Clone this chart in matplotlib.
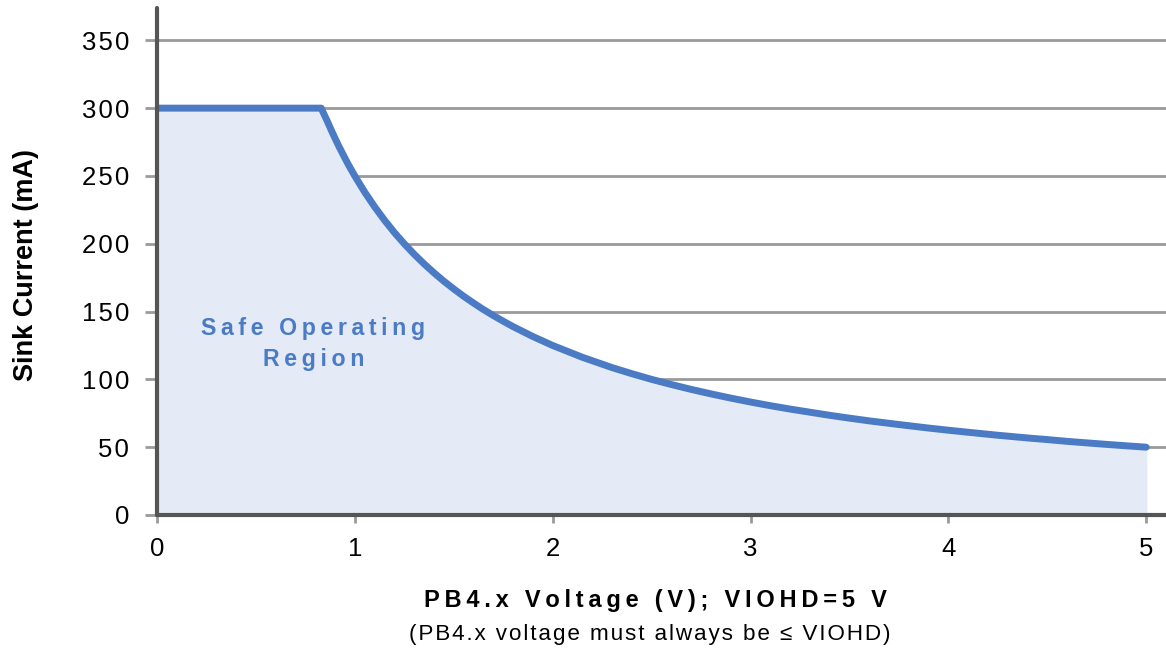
import matplotlib.pyplot as plt
import numpy as np

plt.rcParams['font.family'] = ['Liberation Sans', 'DejaVu Sans']

# curve
voltage = [0, 0.83, 0.86, 0.88, 0.9, 0.92, 0.95, 0.97, 1.0, 1.05, 1.1, 1.15,
           1.2, 1.25, 1.3, 1.35, 1.4, 1.45, 1.5, 1.55, 1.6, 1.65, 1.7, 1.75,
           1.8, 1.9, 2.0, 2.15, 2.3, 2.4, 2.5, 2.6, 2.7, 2.8, 2.9, 3.0, 3.1,
           3.2, 3.3, 3.4, 3.5, 3.6, 3.75, 3.9, 4.0, 4.1, 4.25, 4.4, 4.5, 4.6,
           4.75, 4.9, 5.0]
current = [300, 300, 290.7, 284.1, 277.8, 271.7, 263.2, 257.7, 250, 238.1, 227.3, 217.4,
           208.3, 200, 192.3, 185.2, 178.6, 172.4, 166.7, 161.3, 156.3, 151.5, 147.1, 142.9,
           138.9, 131.6, 125, 116.3, 108.7, 104.2, 100, 96.2, 92.6, 89.3, 86.2, 83.3, 80.6,
           78.1, 75.8, 73.5, 71.4, 69.4, 66.7, 64.1, 62.5, 61, 58.8, 56.8, 55.6, 54.3,
           52.6, 51, 50]
xticks = [0, 1, 2, 3, 4, 5]
yticks = [0, 50, 100, 150, 200, 250, 300, 350]


def spaced(s, sp='\u200a'):
    return sp.join(s)


blue = '#4A7BC4'
fig = plt.figure(figsize=(11.66, 6.49), dpi=100)
ax = fig.add_axes([0.1346, 0.2065, 0.8654, 0.7815])

ax.fill_between(voltage, current, 0, color='#E4EAF6', zorder=1)
ax.plot(voltage, current, color=blue, lw=5, solid_capstyle='round',
        solid_joinstyle='round', zorder=3)

ax.set_xlim(0, 5.1)
ax.set_ylim(0, 374)
ax.set_xticks(xticks)
ax.set_xticklabels([spaced(str(t)) for t in xticks])
ax.set_yticks(yticks)
ax.set_yticklabels([spaced(str(t)) for t in yticks])
ax.yaxis.grid(True, color='#9a9a9a', lw=2)
ax.set_axisbelow(True)

for s in ['top', 'right']:
    ax.spines[s].set_visible(False)
for s in ['left', 'bottom']:
    ax.spines[s].set_color('#555555')
    ax.spines[s].set_linewidth(3)
    ax.spines[s].set_capstyle('round')
    ax.spines[s].set_zorder(4)

ax.tick_params(axis='y', length=9, width=2, color='#9a9a9a', labelsize=18.5, pad=11)
ax.tick_params(axis='x', length=6, width=2, color='#9a9a9a', labelsize=18.5, pad=10)

ax.text(0.79, 126, spaced('Safe Operating', '\u2009') + '\n' + spaced('Region', '\u2009'),
        color=blue, fontsize=16.7, fontweight='bold', ha='center', va='center',
        linespacing=1.45, zorder=5)

fig.text(0.022, 0.592, 'Sink Current (mA)', rotation=90, fontsize=19.5,
         fontweight='bold', ha='center', va='center')
fig.text(0.5617, 0.074, spaced('PB4.x Voltage (V); VIOHD=5 V', '\u2009'), fontsize=17,
         fontweight='bold', ha='center', va='center')
fig.text(0.5575, 0.023, spaced('(PB4.x voltage must always be \u2264 VIOHD)'), fontsize=16.2,
         ha='center', va='center')

fig.savefig('out.png', dpi=100)
